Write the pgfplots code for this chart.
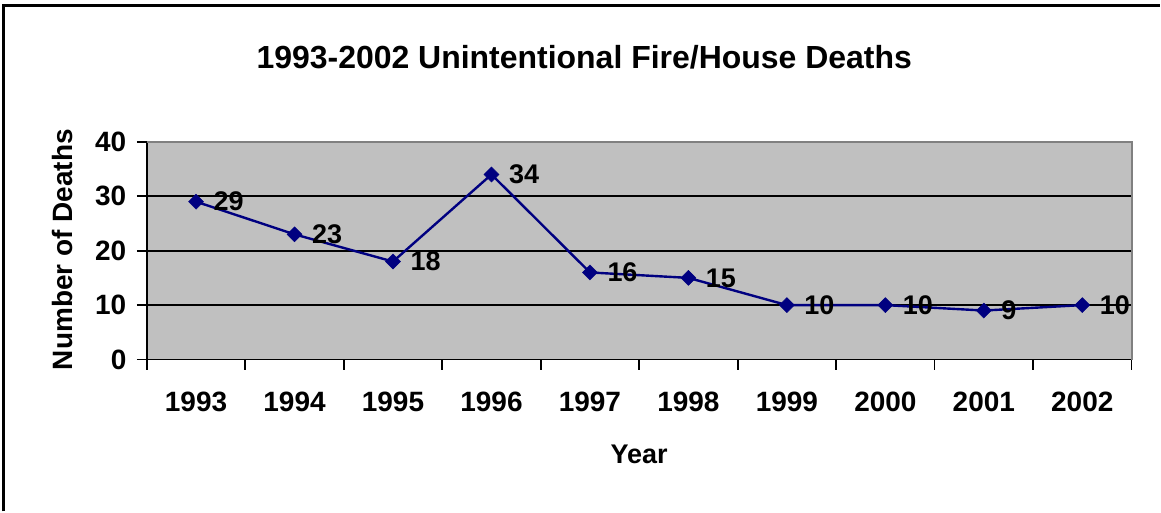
\documentclass[border=0pt]{standalone}
\usepackage{fontspec}
\setmainfont{Liberation Sans}
\usepackage{pgfplots}
\pgfplotsset{compat=1.18}
\definecolor{plotgray}{HTML}{C0C0C0}
\definecolor{navyline}{HTML}{000080}
\definecolor{bordergray}{HTML}{808080}
\begin{document}
\begin{tikzpicture}[x=1pt,y=1pt]
\path[fill=white] (0,0) rectangle (1161,512);
\draw[line width=3pt] (4,0) -- (4,506) -- (1161,506);
\node[font=\fontsize{32}{36}\selectfont\bfseries] at (585,455) {1993-2002 Unintentional Fire/House Deaths};
\node[font=\fontsize{28}{32}\selectfont\bfseries, rotate=90] at (63,262) {Number of Deaths};
\node[font=\fontsize{27}{30}\selectfont\bfseries] at (640,57) {Year};
\begin{axis}[
  at={(147pt,152pt)}, anchor=south west,
  scale only axis, width=986pt, height=218pt,
  xmin=-0.5, xmax=9.5, ymin=0, ymax=40,
  /pgf/number format/assume math mode=true,
  axis background/.style={fill=plotgray},
  axis x line*=bottom, axis y line*=left,
  axis line style={line width=1.8pt, black},
  tick align=outside,
  xtick={0,...,9},
  xticklabels={1993,1994,1995,1996,1997,1998,1999,2000,2001,2002},
  every major x tick/.style={draw=none},
  minor xtick={-0.5,0.5,...,9.5},
  minor tick length=10pt,
  major tick length=10pt,
  every tick/.style={black, line width=1.8pt},
  ytick={0,10,20,30,40},
  ymajorgrids,
  grid style={black, line width=1.8pt},
  ticklabel style={font=\fontsize{28}{31}\selectfont\bfseries},
  xticklabel style={yshift=-19pt},
  yticklabel style={xshift=-7pt},
  clip=false,
]
\addplot[color=navyline, line width=2.4pt, mark=diamond*, mark size=7.5pt,
  mark options={fill=navyline, draw=navyline, line width=0.5pt, xscale=1.33},
  nodes near coords,
  every node near coord/.append style={anchor=west, xshift=14pt, text=black, font=\fontsize{27}{30}\selectfont\bfseries}]
 coordinates {(0,29) (1,23) (2,18) (3,34) (4,16) (5,15) (6,10) (7,10) (8,9) (9,10)};
\draw[bordergray, line width=2pt] (rel axis cs:0,1) -- (rel axis cs:1,1) -- (rel axis cs:1,0);
\end{axis}
\end{tikzpicture}
\end{document}
